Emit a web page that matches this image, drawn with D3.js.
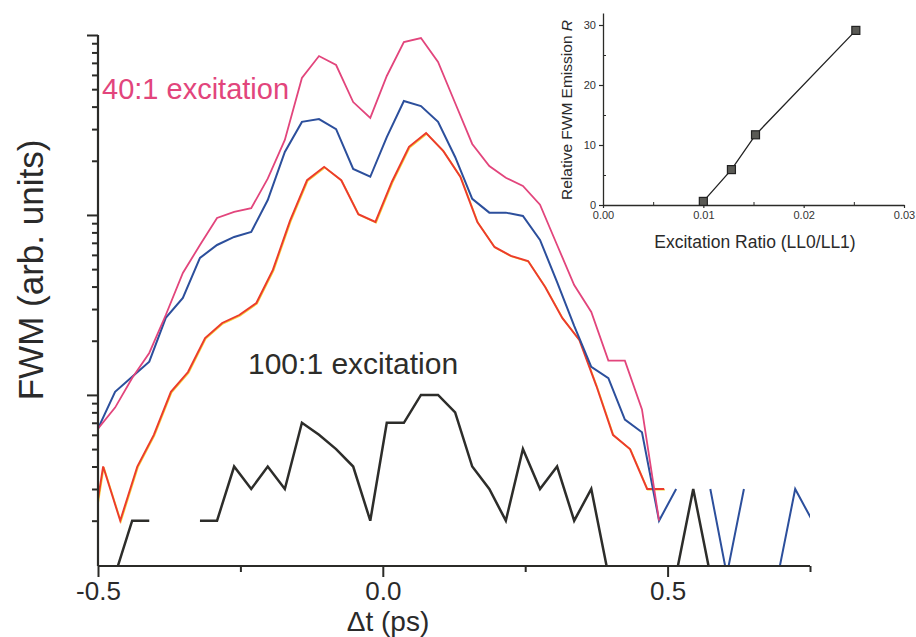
<!DOCTYPE html>
<html>
<head>
<meta charset="utf-8">
<script src="https://cdn.jsdelivr.net/npm/d3@7"></script>
<style>
  html, body { margin: 0; padding: 0; background: #ffffff; }
  svg { display: block; }
  text { font-family: "Liberation Sans", Arial, Helvetica, sans-serif; }
</style>
</head>
<body>
<svg id="chart" width="916" height="637"></svg>
<script>
// ---------------- DATA ----------------
// time grid shared by the 40:1 (pink), blue and 100:1 (black) traces (ps)
const timesA = [-0.500,-0.470,-0.440,-0.410,-0.381,-0.351,-0.321,-0.291,-0.261,-0.231,
  -0.202,-0.172,-0.142,-0.112,-0.082,-0.052,-0.022,0.007,0.037,0.067,
  0.097,0.127,0.157,0.187,0.216,0.246,0.276,0.306,0.336,0.366,
  0.396,0.425,0.455,0.485,0.515,0.545,0.575,0.604,0.634,0.664,
  0.694,0.724,0.754];
// time grid of the red trace (ps)
const timesB = [-0.521,-0.491,-0.461,-0.431,-0.402,-0.372,-0.342,-0.312,-0.282,-0.252,
  -0.222,-0.193,-0.163,-0.133,-0.103,-0.073,-0.043,-0.013,0.016,0.046,
  0.076,0.106,0.136,0.166,0.196,0.225,0.255,0.285,0.315,0.345,
  0.375,0.404,0.434,0.464,0.494];

// FWM signal (arb. units, log axis); null = no signal
const pinkValues = [0.65,0.85,1.24,1.71,2.78,4.76,6.81,9.62,10.4,10.9,
  15.9,26.1,57.7,76.4,68.1,42.4,34.6,59.2,91.4,96.2,
  70.8,41.9,24.8,18.7,16.1,14.5,11.4,6.81,4.08,2.89,
  1.55,1.55,0.83,0.2,null,null,null,null,null,null,
  null,null,null];
const blueValues = [0.65,1.04,1.26,1.53,2.68,3.46,5.77,6.81,7.55,8.04,
  12.1,22.4,32.9,34.1,30.0,18.0,16.3,27.1,43.0,40.3,
  32.9,21.0,12.3,10.3,10.3,9.87,7.26,4.24,2.42,1.43,
  1.24,0.73,0.62,0.2,0.3,null,0.3,0.1,0.3,null,
  0.1,0.3,0.2];
const blackValues = [0.1,0.1,0.2,0.2,null,null,0.2,0.2,0.4,0.3,
  0.4,0.3,0.7,0.6,0.5,0.4,0.2,0.7,0.7,1.0,
  1.0,0.8,0.4,0.3,0.2,0.5,0.3,0.4,0.2,0.3,
  0.1,0.1,0.1,0.1,0.1,0.3,0.1,0.1,0.1,0.1,
  0.1,0.1,0.1];
const redValues = [0.1,0.4,0.2,0.4,0.6,1.04,1.34,2.07,2.51,2.78,
  3.24,4.95,9.26,15.6,18.5,15.6,10.1,9.14,15.3,23.9,
  28.5,22.7,16.3,9.14,6.64,5.92,5.55,3.98,2.68,2.02,
  1.12,0.6,0.5,0.3,0.3];

const xTicks = [-0.5, -0.25, 0, 0.25, 0.5, 0.75];
const xTickLabels = {"-0.5": "-0.5", "0": "0.0", "0.5": "0.5"};
const yMajor = [1, 10, 100];

// inset: relative FWM emission vs excitation ratio
const insetRatio = [0.0100, 0.0128, 0.0152, 0.0252];
const insetR = [0.6, 5.9, 11.7, 29.1];
const insetXTicks = [0, 0.01, 0.02, 0.03];
const insetXTickLabels = ["0.00", "0.01", "0.02", "0.03"];
const insetYTicks = [0, 10, 20, 30];

// ---------------- DRAW ----------------
const svg = d3.select("#chart");
const axisColor = "#2b2b28";

const x = d3.scaleLinear().domain([-0.5, 0.75]).range([98, 810]);
const y = d3.scaleLog().domain([0.112, 100]).range([566, 35]);

svg.append("clipPath").attr("id", "plotclip")
  .append("rect").attr("x", 98).attr("y", 30).attr("width", 712).attr("height", 536);

const plot = svg.append("g").attr("clip-path", "url(#plotclip)");

function drawSeries(times, values, color, width, dx, dy) {
  const pts = times.map((t, i) => ({t: t, v: values[i]}));
  const line = d3.line()
    .defined(d => d.v !== null && d.v > 0)
    .x(d => x(d.t) + (dx || 0)).y(d => y(d.v) + (dy || 0));
  plot.append("path").datum(pts)
    .attr("fill", "none").attr("stroke", color)
    .attr("stroke-width", width).attr("stroke-linejoin", "miter")
    .attr("d", line);
}

drawSeries(timesA, blackValues, "#2d2d2a", 2.5);
drawSeries(timesB, redValues, "#f5cf3a", 1.6, 0.7, 0.7);
drawSeries(timesB, redValues, "#ec3b2c", 1.9);
drawSeries(timesA, blueValues, "#2c4f9c", 2.0);
drawSeries(timesA, pinkValues, "#e2457c", 1.8);

// y axis (log, no labels)
const yAxis = d3.axisLeft(y).tickValues(y.ticks()).tickFormat("").tickSizeOuter(0)
  .tickSize(6);
const gy = svg.append("g").attr("transform", "translate(98,0)").call(yAxis);
gy.selectAll(".tick line")
  .attr("x2", d => yMajor.includes(Math.round(d * 1000) / 1000) ? -11 : -6)
  .attr("stroke", axisColor).attr("stroke-width", 2);
gy.select(".domain").attr("stroke", axisColor).attr("stroke-width", 2.2)
  .attr("d", "M0," + y(100) + "V" + y.range()[0]);

// x axis
const xAxis = d3.axisBottom(x).tickValues(xTicks)
  .tickFormat(d => xTickLabels[String(d)] || "").tickSizeOuter(0);
const gx = svg.append("g").attr("transform", "translate(0,566)").call(xAxis);
gx.selectAll(".tick line")
  .attr("y2", d => xTickLabels[String(d)] ? 11 : 6)
  .attr("stroke", axisColor).attr("stroke-width", 2);
gx.select(".domain").attr("stroke", axisColor).attr("stroke-width", 2.2)
  .attr("d", "M98,0H810");
gx.selectAll(".tick text")
  .attr("y", 16).attr("dy", "0.71em")
  .attr("font-size", 26).attr("fill", "#2a2a2a")
  .style("font-family", "'Liberation Sans', Arial, sans-serif");

// axis titles
svg.append("text").attr("x", 388).attr("y", 631).attr("text-anchor", "middle")
  .attr("font-size", 28).attr("fill", "#2a2a2a").text("\u0394t (ps)");
svg.append("text").attr("transform", "translate(43,270) rotate(-90)")
  .attr("text-anchor", "middle").attr("font-size", 35).attr("fill", "#2a2a2a")
  .text("FWM (arb. units)");

// series annotations
svg.append("text").attr("x", 102).attr("y", 99).attr("font-size", 29)
  .attr("fill", "#e2457c").text("40:1 excitation");
svg.append("text").attr("x", 248).attr("y", 374).attr("font-size", 30)
  .attr("fill", "#2d2d2a").text("100:1 excitation");

// ---------------- INSET ----------------
const xi = d3.scaleLinear().domain([0, 0.03]).range([603, 904]);
const yi = d3.scaleLinear().domain([0, 32]).range([205, 13]);
const inset = svg.append("g");

const gix = inset.append("g").attr("transform", "translate(0,205)")
  .call(d3.axisBottom(xi).tickValues(insetXTicks)
    .tickFormat((d, i) => insetXTickLabels[i]).tickSize(3).tickSizeOuter(0));
gix.select(".domain").attr("stroke", axisColor).attr("stroke-width", 1.3);
gix.selectAll(".tick line").attr("stroke", axisColor).attr("stroke-width", 1.2);
gix.selectAll(".tick text").attr("font-size", 11).attr("fill", "#333").attr("y", 6);
inset.append("g").attr("transform", "translate(0,205)")
  .call(d3.axisTop(xi).tickValues([0.005, 0.015, 0.025]).tickFormat("").tickSize(3).tickSizeOuter(0))
  .call(g => g.select(".domain").remove())
  .selectAll(".tick line").attr("stroke", axisColor).attr("stroke-width", 1);

const giy = inset.append("g").attr("transform", "translate(603,0)")
  .call(d3.axisLeft(yi).tickValues(insetYTicks).tickSize(4).tickSizeOuter(0));
giy.select(".domain").attr("stroke", axisColor).attr("stroke-width", 1.3);
giy.selectAll(".tick line").attr("stroke", axisColor).attr("stroke-width", 1.2);
giy.selectAll(".tick text").attr("font-size", 11).attr("fill", "#333").attr("x", -7);
inset.append("g").attr("transform", "translate(603,0)")
  .call(d3.axisRight(yi).tickValues([5, 15, 25]).tickFormat("").tickSize(3).tickSizeOuter(0))
  .call(g => g.select(".domain").remove())
  .selectAll(".tick line").attr("stroke", axisColor).attr("stroke-width", 1);

const ipts = insetRatio.map((r, i) => ({r: r, v: insetR[i]}));
inset.append("path").datum(ipts).attr("fill", "none").attr("stroke", "#222")
  .attr("stroke-width", 1.3)
  .attr("d", d3.line().x(d => xi(d.r)).y(d => yi(d.v)));
inset.selectAll("rect.mk").data(ipts).enter().append("rect").attr("class", "mk")
  .attr("x", d => xi(d.r) - 4).attr("y", d => yi(d.v) - 4)
  .attr("width", 8).attr("height", 8)
  .attr("fill", "#5a5a55").attr("stroke", "#222").attr("stroke-width", 1.2);

inset.append("text").attr("x", 755).attr("y", 248).attr("text-anchor", "middle")
  .attr("font-size", 17.5).attr("fill", "#2a2a2a").text("Excitation Ratio (LL0/LL1)");
const ylab = inset.append("text").attr("transform", "translate(572,110) rotate(-90)")
  .attr("text-anchor", "middle").attr("font-size", 15.5).attr("fill", "#2a2a2a");
ylab.append("tspan").text("Relative FWM Emission ");
ylab.append("tspan").attr("font-style", "italic").text("R");
</script>
</body>
</html>
